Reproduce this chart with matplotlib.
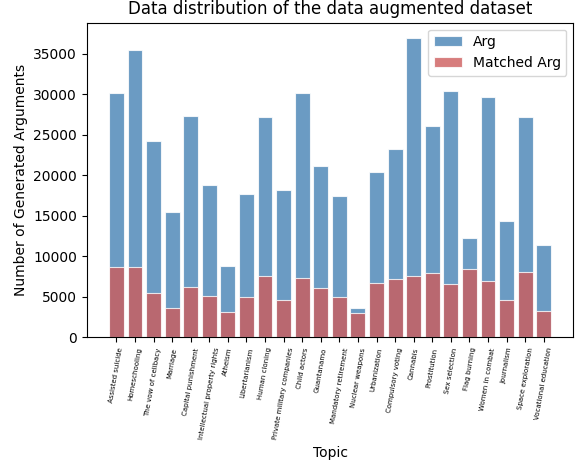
import matplotlib
matplotlib.use("Agg")
import matplotlib.pyplot as plt
import numpy as np

topics = ["Assisted suicide", "Homeschooling", "The vow of celibacy", "Marriage",
          "Capital punishment", "Intellectual property rights", "Atheism",
          "Libertarianism", "Human cloning", "Private military companies",
          "Child actors", "Guantanamo", "Mandatory retirement", "Nuclear weapons",
          "Urbanization", "Compulsory voting", "Cannabis", "Prostitution",
          "Sex selection", "Flag burning", "Women in combat", "Journalism",
          "Space exploration", "Vocational education"]
arg = [30150, 35530, 24300, 15450, 27300, 18830, 8790, 17760, 27260, 18250,
       30230, 21220, 17470, 3640, 20390, 23230, 37020, 26150, 30390, 12330,
       29730, 14380, 27220, 11380]
matched = [8740, 8665, 5490, 3600, 6235, 5120, 3150, 5000, 7550, 4590,
           7350, 6110, 4960, 3070, 6690, 7220, 7590, 7960, 6600, 8420,
           7020, 4670, 8045, 3270]

fig = plt.figure(figsize=(5.75, 4.7), dpi=100)
ax = fig.add_axes([0.151, 0.282, 0.846, 0.670])
x = np.arange(len(topics))
ax.bar(x, arg, width=0.8, color="steelblue", alpha=0.8, edgecolor="white", linewidth=0.8, label="Arg")
ax.bar(x, matched, width=0.8, color="indianred", alpha=0.8, edgecolor="white", linewidth=0.8, label="Matched Arg")
ax.set_xticks(x)
ax.set_xticklabels(topics, rotation=80, fontsize=5)
ax.set_xlabel("Topic")
ax.set_ylabel("Number of Generated Arguments")
ax.set_title("Data distribution of the data augmented dataset")
ax.legend(loc="upper right")
fig.savefig("out.png", dpi=100)
